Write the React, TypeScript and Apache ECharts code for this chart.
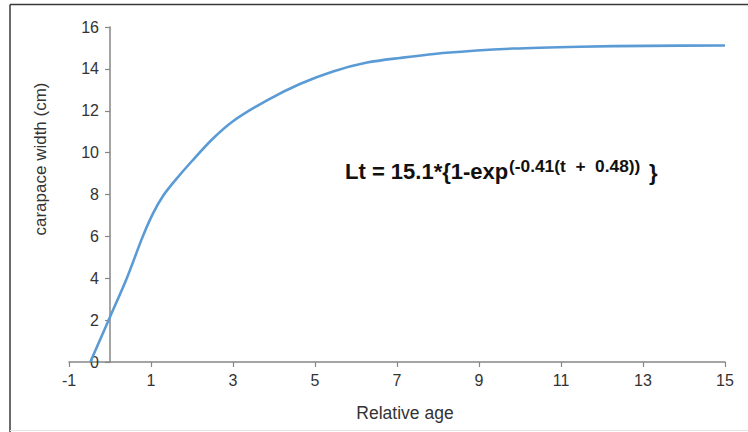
import React, { useEffect, useRef } from "react";
import * as echarts from "echarts";

const ages = [-0.48, 0, 0.41, 0.8, 1.05, 1.3, 1.6, 2.0, 2.5, 3.0, 3.83, 4.63, 5.44, 6.27, 7.07, 8.2, 9.83, 11.46, 13.1, 15];
const widths = [0, 2.15, 4, 6, 7.1, 7.95, 8.7, 9.6, 10.65, 11.5, 12.5, 13.28, 13.88, 14.3, 14.52, 14.77, 14.97, 15.06, 15.1, 15.12];

const xTicks = { min: -1, max: 15, interval: 2 };
const yTicks = { min: 0, max: 16, interval: 2 };

const xName = "Relative age";
const yName = "carapace width (cm)";
const formulaMain = "Lt = 15.1*{1-exp";
const formulaSup = "(-0.41(t  +  0.48))";
const formulaEnd = "}";

const FONT = "'Liberation Sans', Arial, sans-serif";
const TXT = "#333333";
const AXIS = "#868686";

export default function App() {
  const ref = useRef<HTMLDivElement>(null);
  useEffect(() => {
    if (!ref.current) return;
    const chart = echarts.init(ref.current, undefined, { renderer: "svg" });
    const data = ages.map((a, i) => [a, widths[i]]);
    chart.setOption({
      animation: false,
      backgroundColor: "#ffffff",
      grid: { left: 69, right: 23, top: 27, bottom: 70 },
      xAxis: {
        type: "value",
        min: xTicks.min,
        max: xTicks.max,
        interval: xTicks.interval,
        axisLine: { show: true, onZero: false, lineStyle: { color: AXIS, width: 1.5 } },
        axisTick: { show: true, length: 5, lineStyle: { color: AXIS, width: 1.2 } },
        splitLine: { show: false },
        axisLabel: { fontSize: 16, color: TXT, margin: 10, fontFamily: FONT },
      },
      yAxis: {
        type: "value",
        position: "left",
        offset: -41,
        min: yTicks.min,
        max: yTicks.max,
        interval: yTicks.interval,
        axisLine: { show: true, onZero: false, lineStyle: { color: AXIS, width: 1.5 } },
        axisTick: { show: true, length: 5, lineStyle: { color: AXIS, width: 1.2 } },
        splitLine: { show: false },
        axisLabel: { fontSize: 16, color: TXT, margin: 11, fontFamily: FONT },
      },
      series: [
        {
          type: "line",
          data,
          smooth: 0.3,
          showSymbol: false,
          symbol: "none",
          lineStyle: { color: "#5B9BD5", width: 2.6 },
        },
      ],
      graphic: [
        { type: "line", shape: { x1: 10, y1: 4.5, x2: 10, y2: 432 }, style: { stroke: "#3a3a3a", lineWidth: 1.5 } },
        { type: "line", shape: { x1: 10, y1: 4.5, x2: 748, y2: 4.5 }, style: { stroke: "#3a3a3a", lineWidth: 1.5 } },
        { type: "line", shape: { x1: 10, y1: 430.5, x2: 748, y2: 430.5 }, style: { stroke: "#e4e4e4", lineWidth: 1 } },
        {
          type: "text",
          x: 40,
          y: 159,
          rotation: Math.PI / 2,
          style: { text: yName, font: `17px ${FONT}`, fill: TXT, align: "center", verticalAlign: "middle" },
        },
        {
          type: "text",
          x: 405,
          y: 413,
          style: { text: xName, font: `17.5px ${FONT}`, fill: TXT, align: "center", verticalAlign: "middle" },
        },
        {
          type: "text",
          x: 345,
          y: 171,
          style: { text: formulaMain, font: `bold 22px ${FONT}`, fill: "#111", align: "left", verticalAlign: "middle" },
        },
        {
          type: "text",
          x: 509,
          y: 167,
          scaleX: 1.05,
          style: { text: formulaSup, font: `bold 16.5px ${FONT}`, fill: "#111", align: "left", verticalAlign: "middle" },
        },
        {
          type: "text",
          x: 649,
          y: 172,
          style: { text: formulaEnd, font: `bold 22px ${FONT}`, fill: "#111", align: "left", verticalAlign: "middle" },
        },
      ],
    });
    return () => chart.dispose();
  }, []);
  return <div ref={ref} style={{ position: "absolute", left: 0, top: 0, width: 748, height: 432 }} />;
}
